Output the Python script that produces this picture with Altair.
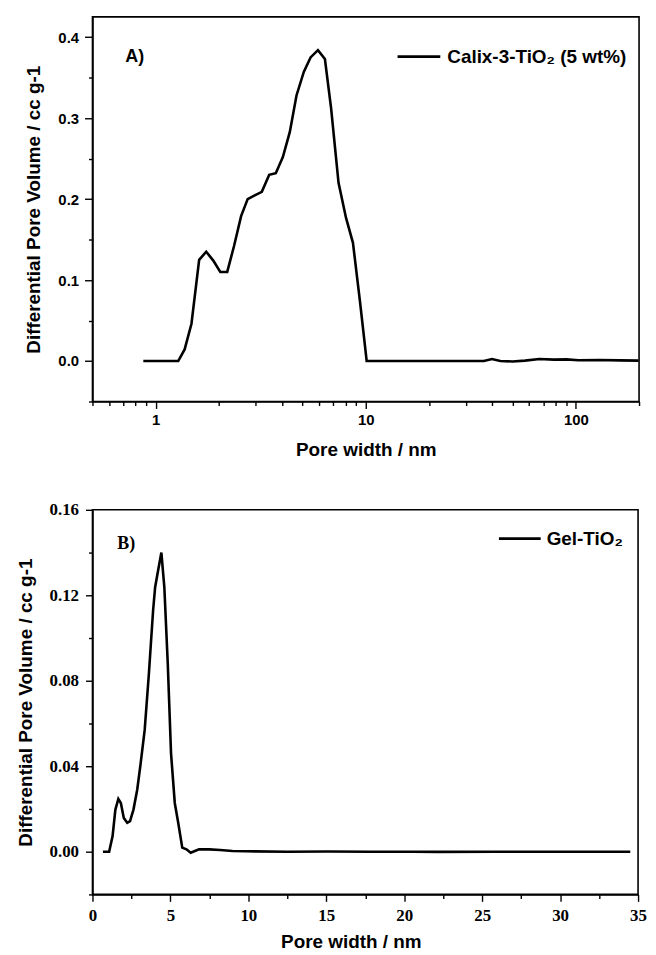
import altair as alt
import pandas as pd

# ---------------- Panel A: Calix-3-TiO2 (5 wt%) ----------------
a_width = [0.873, 1.28, 1.373, 1.48, 1.61, 1.74, 1.88, 2.03, 2.19, 2.36, 2.55,
           2.74, 2.96, 3.20, 3.47, 3.73, 4.03, 4.35, 4.68, 5.07, 5.46, 5.92,
           6.39, 6.84, 7.42, 8.05, 8.69, 9.39, 10.1, 36.5, 39.9, 43.7, 50.0,
           57.3, 67.0, 78.7, 90.1, 103.0, 129.0, 162.0, 199.0]
a_volume = [0.0, 0.0, 0.0143, 0.046, 0.125, 0.135, 0.124, 0.110, 0.110, 0.142,
            0.179, 0.200, 0.2045, 0.209, 0.230, 0.232, 0.252, 0.283, 0.328,
            0.357, 0.375, 0.384, 0.373, 0.312, 0.220, 0.177, 0.146, 0.073,
            0.0, 0.0, 0.0025, 0.0, -0.0005, 0.0005, 0.0025, 0.0017, 0.002,
            0.001, 0.0012, 0.0008, 0.0005]

# ---------------- Panel B: Gel-TiO2 ----------------
b_width = [0.67, 1.07, 1.29, 1.47, 1.66, 1.82, 2.01, 2.23, 2.41, 2.63, 2.87,
           3.08, 3.35, 3.62, 3.89, 4.02, 4.21, 4.42, 4.61, 4.83, 5.04, 5.28,
           5.50, 5.76, 6.03, 6.30, 6.57, 6.84, 7.5, 8.18, 8.98, 9.79, 12.5,
           15.1, 17.8, 20.5, 22.1, 25.9, 28.6, 31.2, 34.5]
b_volume = [0.0, 0.0, 0.0073, 0.0197, 0.0247, 0.0228, 0.0158, 0.0135, 0.0143,
            0.0197, 0.029, 0.0407, 0.057, 0.0834, 0.113, 0.1238, 0.1316, 0.140,
            0.1238, 0.0881, 0.046, 0.0228, 0.0135, 0.0019, 0.0011, -0.0005,
            0.0003, 0.0011, 0.0011, 0.0008, 0.0003, 0.0002, 0.0, 0.0001, 0.0,
            0.0, -0.0001, 0.0, 0.0, 0.0, 0.0]

# ---------------- tick values ----------------
a_major_x = [1, 10, 100]
a_minor_x = [0.5, 0.6, 0.7, 0.8, 0.9, 2, 3, 4, 5, 6, 7, 8, 9,
             20, 30, 40, 50, 60, 70, 80, 90, 200]
a_major_y = [0.0, 0.1, 0.2, 0.3, 0.4]
a_minor_y = [-0.05, 0.05, 0.15, 0.25, 0.35]

b_major_x = [0, 5, 10, 15, 20, 25, 30, 35]
b_minor_x = [2.5, 7.5, 12.5, 17.5, 22.5, 27.5, 32.5]
b_major_y = [0.0, 0.04, 0.08, 0.12, 0.16]
b_minor_y = [-0.02, 0.02, 0.06, 0.10, 0.14]

# ---------------- texts ----------------
y_title = "Differential Pore Volume / cc g-1"
x_title = "Pore width / nm"
a_label = "A)"
b_label = "B)"
a_legend = "Calix-3-TiO\u2082 (5 wt%)"
b_legend = "Gel-TiO\u2082"

SANS = "Liberation Sans"
SERIF = "Liberation Serif"


def js(v):
    return "[" + ",".join(repr(float(x)) for x in v) + "]"


def axis(major, minor, fmt, font, size, title, major_len, minor_len,
         label_pad, title_pad, **extra):
    test = f"indexof({js(major)}, datum.value) >= 0"
    return alt.Axis(
        values=sorted(major + minor),
        format=fmt,
        labelExpr=f"{test} ? datum.label : ''",
        tickSize={"condition": {"test": test, "value": major_len},
                  "value": minor_len},
        labelFont=font, labelFontSize=size, labelFontWeight="bold",
        labelPadding=label_pad, labelFlush=False, labelOverlap=False,
        labelColor="black",
        title=title, titleFont=SANS, titleFontSize=19, titleFontWeight="bold",
        titleColor="black", titlePadding=title_pad,
        grid=False, domainColor="black", domainWidth=1.6,
        tickColor="black", tickWidth=1.4,
        **extra,
    )


one = alt.Data(values=[{}])


def panel(df, xscale, yscale, xaxis, yaxis, label, label_font, label_xy,
          legend, leg_line, leg_text_x, leg_y, w, h):
    line = alt.Chart(df).mark_line(color="black", strokeWidth=2.6).encode(
        x=alt.X("w:Q", scale=xscale, axis=xaxis),
        y=alt.Y("v:Q", scale=yscale, axis=yaxis),
    )
    lab = alt.Chart(one).mark_text(
        font=label_font, fontSize=18, fontWeight="bold", align="left",
        baseline="middle", color="black"
    ).encode(x=alt.value(label_xy[0]), y=alt.value(label_xy[1]),
             text=alt.value(label))
    rule = alt.Chart(one).mark_rule(color="black", strokeWidth=2.6).encode(
        x=alt.value(leg_line[0]), x2=alt.value(leg_line[1]), y=alt.value(leg_y)
    )
    txt = alt.Chart(one).mark_text(
        font=SANS, fontSize=19, fontWeight="bold", align="left",
        baseline="middle", color="black"
    ).encode(x=alt.value(leg_text_x), y=alt.value(leg_y),
             text=alt.value(legend))
    return alt.layer(line, lab, rule, txt).properties(width=w, height=h)


df_a = pd.DataFrame({"w": a_width, "v": a_volume})
df_b = pd.DataFrame({"w": b_width, "v": b_volume})

top = panel(
    df_a,
    alt.Scale(type="log", domain=[0.5, 200], nice=False),
    alt.Scale(domain=[-0.05, 0.425], nice=False, zero=False),
    axis(a_major_x, a_minor_x, "~g", SANS, 15, x_title, 7, 4, 4, 13),
    axis(a_major_y, a_minor_y, ".1f", SANS, 15, y_title, 8, 4, 6, 14),
    a_label, SANS, (33, 40), a_legend, (307, 350), 357, 40, 550, 387,
)

bottom = panel(
    df_b,
    alt.Scale(domain=[0, 35], nice=False),
    alt.Scale(domain=[-0.02, 0.16], nice=False, zero=False),
    axis(b_major_x, b_minor_x, "d", SERIF, 17, x_title, 7, 4, 6, 9,
         titleX=260),
    axis(b_major_y, b_minor_y, ".2f", SERIF, 17, y_title, 7, 4, 7, 14),
    b_label, SERIF, (25, 34), b_legend, (409, 451), 457, 29, 549, 387,
)

chart = alt.vconcat(top, bottom, spacing=40).configure(
    padding={"left": 7, "top": 5, "right": 0, "bottom": 0}
).configure_view(stroke="black", strokeWidth=1.6)

chart.save("out.html", embed_options={"renderer": "svg", "actions": False})
